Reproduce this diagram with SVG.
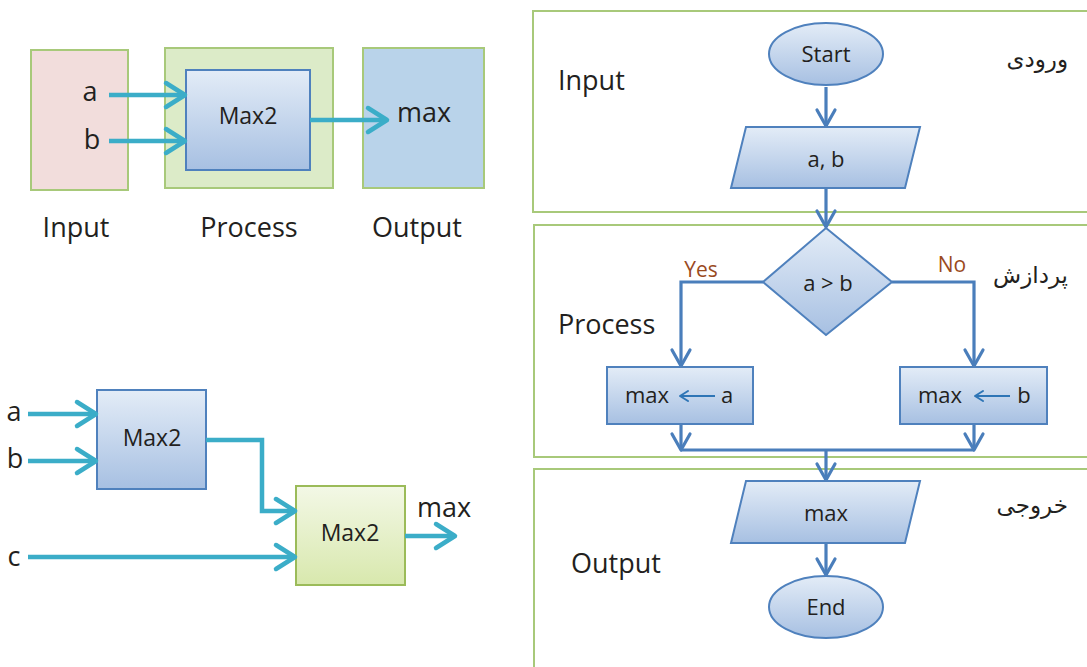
<svg xmlns="http://www.w3.org/2000/svg" width="1087" height="667" viewBox="0 0 1087 667">
<defs>
  <linearGradient id="gBlue" x1="0" y1="0" x2="0" y2="1">
    <stop offset="0" stop-color="#e3ecf7"/>
    <stop offset="1" stop-color="#a7c0e2"/>
  </linearGradient>
  <linearGradient id="gGreen" x1="0" y1="0" x2="0" y2="1">
    <stop offset="0" stop-color="#f3f8e6"/>
    <stop offset="1" stop-color="#d8e8ad"/>
  </linearGradient>
  <marker id="tealHead" markerUnits="userSpaceOnUse" markerWidth="30" markerHeight="30" refX="22" refY="15" orient="auto" overflow="visible">
    <path d="M3,3 L22,15 L3,27" fill="none" stroke="#3badc8" stroke-width="4.5" stroke-linecap="round" stroke-linejoin="round"/>
  </marker>
  <marker id="blueHead" markerUnits="userSpaceOnUse" markerWidth="24" markerHeight="24" refX="19" refY="12" orient="auto" overflow="visible">
    <path d="M3,3 L19,12 L3,21" fill="none" stroke="#4a7ebb" stroke-width="3.2" stroke-linecap="round" stroke-linejoin="round"/>
  </marker>
  <marker id="smallHead" markerUnits="userSpaceOnUse" markerWidth="16" markerHeight="16" refX="10" refY="8" orient="auto" overflow="visible">
    <path d="M2,3 L10,8 L2,13" fill="none" stroke="#2e75b6" stroke-width="2" stroke-linecap="round" stroke-linejoin="round"/>
  </marker>
</defs>
<style>
  text { font-family: "Open Sans", "Liberation Sans", sans-serif; fill: #231f20; }
  .lbl { font-size: 27px; }
  .node { font-size: 22px; text-anchor: middle; }
  .mx { font-size: 23px; text-anchor: middle; }
  .fa { font-family: "DejaVu Sans", "Noto Sans", sans-serif; font-size: 23px; text-anchor: end; }
  .yn { font-size: 21px; fill: #9a4a1e; text-anchor: middle; }
  .panel { stroke: #a8c97a; stroke-width: 2; }
  .lane { fill: #ffffff; stroke: #a8c97a; stroke-width: 2; }
  .bbox { fill: url(#gBlue); stroke: #4f81bd; stroke-width: 2; }
  .gbox { fill: url(#gGreen); stroke: #9bbb59; stroke-width: 2; }
  .teal { fill: none; stroke: #3badc8; stroke-width: 4.5; }
  .flow { fill: none; stroke: #4a7ebb; stroke-width: 3.2; }
  .inner { fill: none; stroke: #2e75b6; stroke-width: 2; }
</style>

<!-- top-left IPO diagram -->
<g id="ipo-input"><rect class="panel" x="31" y="50" width="97" height="140" fill="#f2dddc"/></g>
<g id="ipo-process"><rect class="panel" x="165" y="48" width="168" height="140" fill="#dcebc8"/></g>
<g id="ipo-output"><rect class="panel" x="363" y="48" width="121" height="140" fill="#b9d3ea"/></g>
<g id="ipo-max2"><rect class="bbox" x="186" y="70" width="124" height="100"/><text class="mx" x="248" y="124">Max2</text></g>
<g id="ipo-texts">
  <text class="lbl" x="90" y="101" text-anchor="middle">a</text>
  <text class="lbl" x="92" y="149" text-anchor="middle">b</text>
  <text class="lbl" x="397" y="122">max</text>
  <text class="lbl" x="76" y="237" text-anchor="middle">Input</text>
  <text class="lbl" x="249" y="237" text-anchor="middle">Process</text>
  <text class="lbl" x="417" y="237" text-anchor="middle">Output</text>
</g>

<!-- bottom-left cascaded Max2 -->
<g id="c-max2-1"><rect class="bbox" x="97" y="390" width="109" height="99"/><text class="mx" x="152" y="446">Max2</text></g>
<g id="c-max2-2"><rect class="gbox" x="296" y="486" width="109" height="99"/><text class="mx" x="350" y="541">Max2</text></g>
<g id="c-texts">
  <text class="lbl" x="14" y="421" text-anchor="middle">a</text>
  <text class="lbl" x="15" y="468" text-anchor="middle">b</text>
  <text class="lbl" x="14" y="566" text-anchor="middle">c</text>
  <text class="lbl" x="417" y="517">max</text>
</g>

<!-- swimlanes -->
<g id="lane-input"><rect class="lane" x="533" y="11" width="600" height="201"/>
  <text class="lbl" x="558" y="90">Input</text>
  <text class="fa" x="1068" y="67">ورودی</text></g>
<g id="lane-process"><rect class="lane" x="534" y="225" width="600" height="232"/>
  <text class="lbl" x="558" y="334">Process</text>
  <text class="fa" x="1068" y="283">پردازش</text></g>
<g id="lane-output"><rect class="lane" x="534" y="469" width="600" height="250"/>
  <text class="lbl" x="571" y="573">Output</text>
  <text class="fa" x="1068" y="513">خروجی</text></g>

<!-- connectors -->
<g id="connectors">
  <line class="teal" x1="109" y1="95" x2="185" y2="95" marker-end="url(#tealHead)"/>
  <line class="teal" x1="109" y1="141" x2="185" y2="141" marker-end="url(#tealHead)"/>
  <line class="teal" x1="310" y1="120" x2="387" y2="120" marker-end="url(#tealHead)"/>
  <line class="teal" x1="28" y1="414" x2="96" y2="414" marker-end="url(#tealHead)"/>
  <line class="teal" x1="28" y1="461" x2="96" y2="461" marker-end="url(#tealHead)"/>
  <line class="teal" x1="28" y1="557" x2="295" y2="557" marker-end="url(#tealHead)"/>
  <polyline class="teal" points="206,440 262,440 262,511 295,511" marker-end="url(#tealHead)"/>
  <line class="teal" x1="405" y1="536" x2="455" y2="536" marker-end="url(#tealHead)"/>

  <line class="flow" x1="826" y1="87" x2="826" y2="126" marker-end="url(#blueHead)"/>
  <line class="flow" x1="826" y1="188" x2="826" y2="227" marker-end="url(#blueHead)"/>
  <polyline class="flow" points="763,282 681,282 681,366" marker-end="url(#blueHead)"/>
  <polyline class="flow" points="892,282 974,282 974,366" marker-end="url(#blueHead)"/>
  <line class="flow" x1="681" y1="424" x2="681" y2="450" marker-end="url(#blueHead)"/>
  <line class="flow" x1="974" y1="424" x2="974" y2="450" marker-end="url(#blueHead)"/>
  <line class="flow" x1="681" y1="450" x2="974" y2="450"/>
  <line class="flow" x1="826" y1="450" x2="826" y2="480" marker-end="url(#blueHead)"/>
  <line class="flow" x1="826" y1="543" x2="826" y2="575" marker-end="url(#blueHead)"/>
</g>

<!-- flowchart nodes -->
<g id="start"><ellipse class="bbox" cx="826" cy="54" rx="57" ry="31"/><text class="node" x="826" y="62">Start</text></g>
<g id="in-ab"><polygon class="bbox" points="746,127 920,127 905,188 731,188"/><text class="node" x="826" y="167">a, b</text></g>
<g id="decision"><polygon class="bbox" points="826,228 892,282 826,335 763,282"/><text class="node" x="828" y="291">a &gt; b</text>
  <text class="yn" x="701" y="277">Yes</text><text class="yn" x="952" y="272">No</text></g>
<g id="assign-a"><rect class="bbox" x="607" y="367" width="146" height="57"/>
  <text class="node" x="647" y="403">max</text>
  <line class="inner" x1="715" y1="396" x2="680" y2="396" marker-end="url(#smallHead)"/>
  <text class="node" x="727" y="403">a</text></g>
<g id="assign-b"><rect class="bbox" x="900" y="367" width="147" height="57"/>
  <text class="node" x="940" y="403">max</text>
  <line class="inner" x1="1010" y1="396" x2="975" y2="396" marker-end="url(#smallHead)"/>
  <text class="node" x="1024" y="403">b</text></g>
<g id="out-max"><polygon class="bbox" points="746,481 920,481 905,543 731,543"/><text class="node" x="826" y="521">max</text></g>
<g id="end"><ellipse class="bbox" cx="826" cy="607" rx="57" ry="31"/><text class="node" x="826" y="615">End</text></g>
</svg>
